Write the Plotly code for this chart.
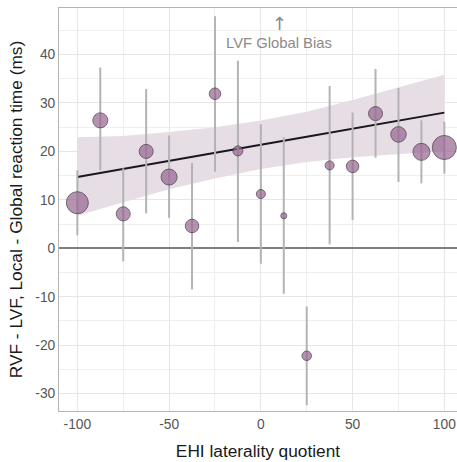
import plotly.graph_objects as go

# Data
ehi = [-100, -87.5, -75, -62.5, -50, -37.5, -25, -12.5, 0, 12.5, 25, 37.5, 50, 62.5, 75, 87.5, 100]
rt_diff = [9.4, 26.4, 7.1, 20.0, 14.7, 4.6, 31.9, 20.1, 11.2, 6.7, -22.2, 17.1, 16.9, 27.8, 23.5, 19.9, 20.8]
ci_upper = [16.1, 37.3, 16.5, 32.9, 23.3, 17.6, 47.9, 38.7, 25.6, 22.9, -12.0, 33.5, 28.0, 37.0, 33.1, 26.4, 26.1]
ci_lower = [2.7, 16.1, -2.7, 7.2, 6.3, -8.5, 15.8, 1.3, -3.2, -9.4, -32.4, 0.8, 5.8, 18.7, 13.7, 13.4, 15.4]
n_weight = [22, 15, 14, 14, 16, 13.5, 11.5, 10, 9, 6, 9.5, 9, 12.5, 14, 15.5, 17, 24]

fit_x = [-100, -75, -50, -25, 0, 25, 50, 75, 100]
fit_y = [14.7, 16.4, 18.0, 19.7, 21.35, 23.0, 24.7, 26.3, 28.0]
band_upper = [22.9, 23.2, 24.0, 25.0, 26.35, 28.2, 30.6, 33.2, 35.8]
band_lower = [6.7, 9.5, 12.2, 14.4, 16.35, 17.8, 18.8, 19.5, 20.1]

y_ticks = [-30, -20, -10, 0, 10, 20, 30, 40]
x_ticks = [-100, -50, 0, 50, 100]

FONT = "Liberation Sans, Arial, sans-serif"

fig = go.Figure()

# confidence band
fig.add_trace(go.Scatter(
    x=fit_x + fit_x[::-1], y=band_upper + band_lower[::-1],
    fill="toself", fillcolor="#e6dde5", line=dict(width=0),
    mode="lines", hoverinfo="skip", showlegend=False))

# regression line
fig.add_trace(go.Scatter(
    x=fit_x, y=fit_y, mode="lines",
    line=dict(color="#1c1620", width=2), showlegend=False))

# error bars
for xi, lo, hi in zip(ehi, ci_lower, ci_upper):
    fig.add_trace(go.Scatter(
        x=[xi, xi], y=[lo, hi], mode="lines",
        line=dict(color="#b3b3b3", width=2), showlegend=False, hoverinfo="skip"))

# points
fig.add_trace(go.Scatter(
    x=ehi, y=rt_diff, mode="markers",
    marker=dict(size=n_weight, color="#96658f", line=dict(color="#3a2a38", width=1)),
    showlegend=False))

fig.add_annotation(x=10, y=46.4, text="↑", showarrow=False,
                   font=dict(family="DejaVu Sans", size=18, color="#8a8a8a"))
fig.add_annotation(x=10, y=42.4, text="LVF Global Bias", showarrow=False,
                   font=dict(family=FONT, size=14.8, color="#8a8a8a"))

fig.update_layout(
    width=457, height=462,
    margin=dict(l=59, r=0, t=8, b=51),
    paper_bgcolor="white", plot_bgcolor="white",
    font=dict(family=FONT),
    xaxis=dict(
        range=[-110, 106.9], tickvals=x_ticks, ticktext=[str(v) for v in x_ticks],
        showgrid=True, gridcolor="#e6e6e6", gridwidth=1,
        minor=dict(dtick=25, tick0=0, showgrid=True, gridcolor="#efefef", gridwidth=1),
        zeroline=False, showline=True, linecolor="#b3b3b3", linewidth=1, mirror=True,
        ticks="", tickfont=dict(size=13.8, color="#555555"), automargin=False,
        title=dict(text="EHI laterality quotient", font=dict(size=17.3, color="#1a1a1a"), standoff=14),
    ),
    yaxis=dict(
        range=[-33.6, 49.6], tickvals=y_ticks, ticktext=[str(v) for v in y_ticks],
        showgrid=True, gridcolor="#e6e6e6", gridwidth=1,
        minor=dict(dtick=5, tick0=0, showgrid=True, gridcolor="#efefef", gridwidth=1),
        zeroline=True, zerolinecolor="#7f7f7f", zerolinewidth=1.5,
        showline=True, linecolor="#b3b3b3", linewidth=1, mirror=True,
        ticks="", tickfont=dict(size=13.8, color="#555555"), automargin=False,
        title=dict(text="RVF - LVF, Local - Global reaction time (ms)", font=dict(size=17.3, color="#1a1a1a"), standoff=8),
    ),
)

fig.write_html("out.html",
               config={"displayModeBar": False},
               post_script="document.body.style.margin='0';document.body.style.overflow='hidden';")
